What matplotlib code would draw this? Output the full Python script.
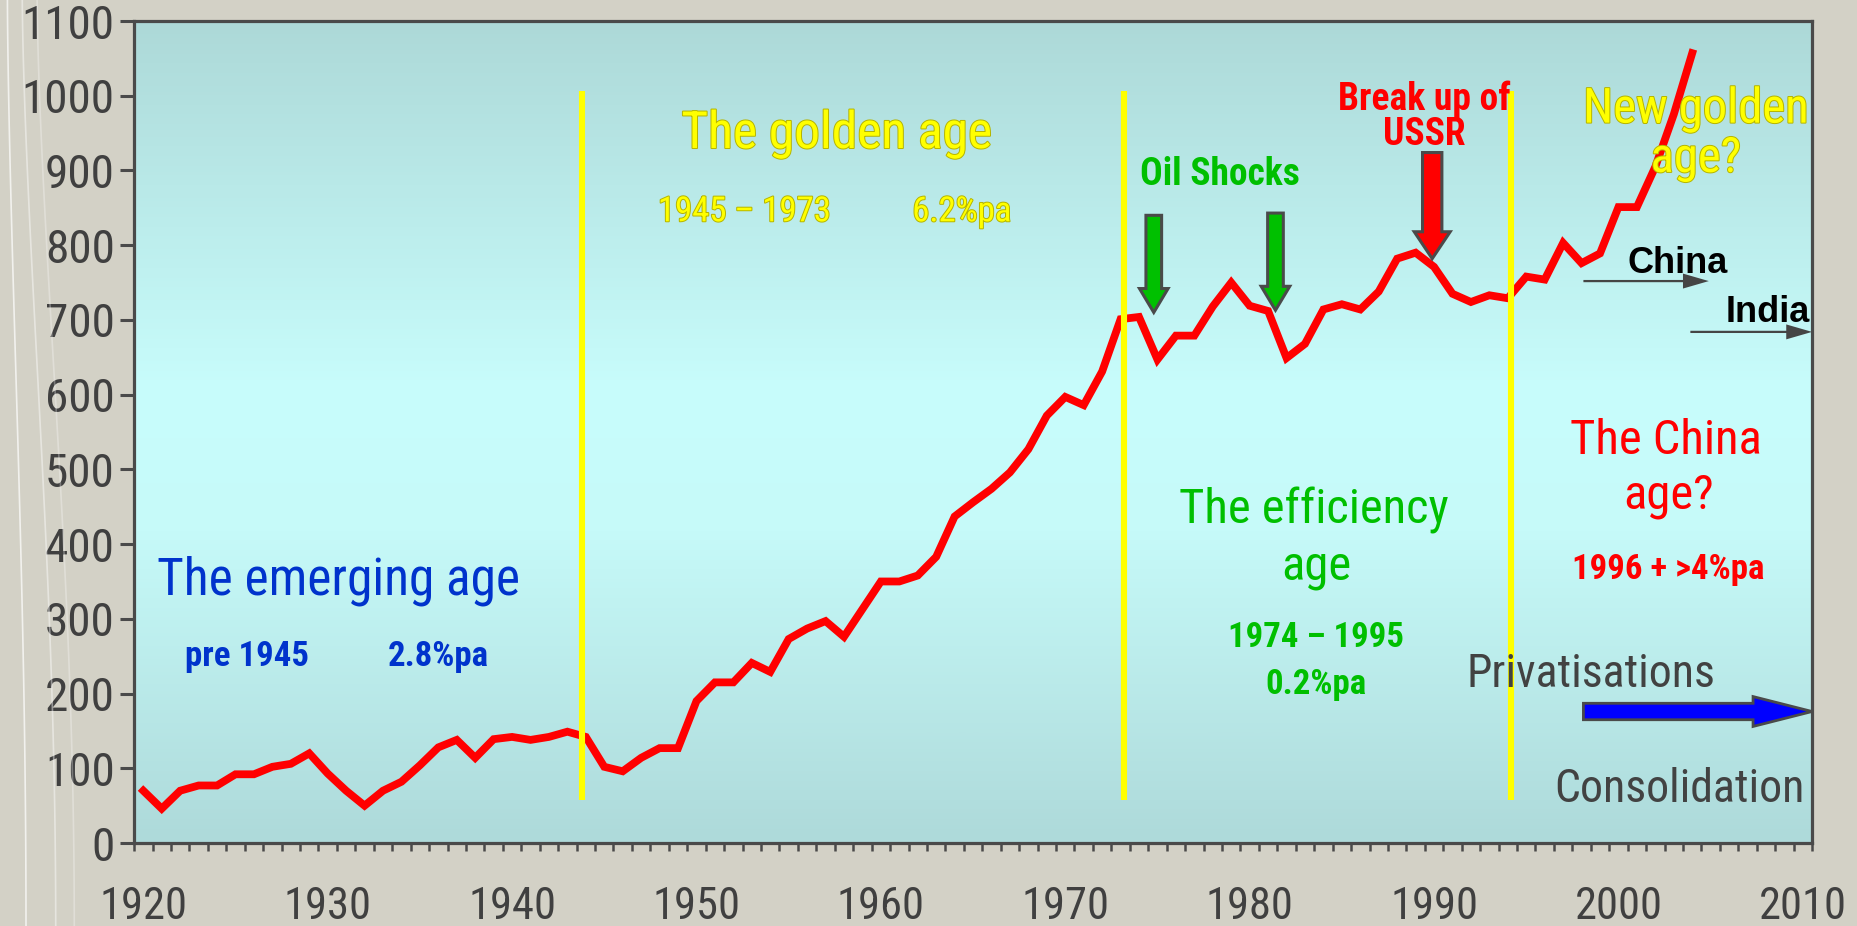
import numpy as np
import matplotlib
matplotlib.use('Agg')
import matplotlib.pyplot as plt
from matplotlib import font_manager as fm
from matplotlib.patches import FancyArrow
from matplotlib.colors import LinearSegmentedColormap
from matplotlib.ticker import FixedLocator, NullFormatter
import matplotlib.patheffects as pe

# ---------------- data ----------------
years = list(range(1920, 2005))
values = [70, 46, 70, 77, 77, 92, 92, 102, 106, 120,
          93, 70, 50, 70, 82, 104, 128, 138, 114, 139,
          142, 138, 142, 149, 142, 102, 96, 114, 127, 127,
          190, 215, 215, 241, 229, 273, 287, 297, 276, 313,
          350, 350, 358, 383, 437, 456, 474, 496, 527, 572,
          597, 586, 631, 701, 704, 647, 679, 679, 718, 750,
          719, 712, 649, 668, 714, 721, 714, 738, 782, 790,
          771, 735, 724, 733, 729, 758, 754, 803, 776, 789,
          851, 851, 905, 975, 1057]

era_boundaries = [1943.8, 1973.2, 1994.2]
era_line_range = (58, 1006)

x_tick_labels = [1920, 1930, 1940, 1950, 1960, 1970, 1980, 1990, 2000, 2010]
y_ticks = list(range(0, 1101, 100))

# event arrows: (x, top, tip)
oil_shock_arrows = [(1974.8, 840, 710), (1981.4, 843, 713)]
ussr_arrow = (1989.9, 924, 782)

# ---------------- fonts ----------------
avail = {f.name for f in fm.fontManager.ttflist}
NARROW = None
for cand in ['Liberation Sans Narrow', 'Arial Narrow', 'Roboto Condensed',
             'Open Sans Condensed', 'DejaVu Sans Condensed']:
    if cand in avail:
        NARROW = cand
        break
if NARROW is None:
    NARROW = 'DejaVu Sans'
    STRETCH = 'condensed'
    SC = 0.8
else:
    STRETCH = 'normal'
    SC = 1.0
WIDE = 'Liberation Sans' if 'Liberation Sans' in avail else 'DejaVu Sans'


def nfont(size, weight='normal'):
    return dict(family=NARROW, fontsize=size * SC, fontweight=weight, fontstretch=STRETCH)


FIG_BG = '#D3D1C6'
SPINE = '#4a4a4a'
TICKC = '#404040'
BLUE_T = '#0033CC'
GREEN_T = '#00BF00'
RED = '#FF0000'
YELLOW = '#FFFF00'
GRAY_T = '#424242'

fig = plt.figure(figsize=(18.57, 9.26), dpi=100, facecolor=FIG_BG)
ax = fig.add_axes([0.0722, 0.0896, 0.9758 - 0.0722, 0.9773 - 0.0896])
ax.set_facecolor('#C8FCFB')

# gradient background
cmap = LinearSegmentedColormap.from_list(
    'bg', [(0.0, '#ADD9D8'), (0.45, '#C8FDFC'), (0.62, '#C6FAF9'), (1.0, '#AEDADA')])
grad = np.linspace(0, 1, 256).reshape(-1, 1)
ax.imshow(grad, aspect='auto', cmap=cmap, extent=[0, 1, 0, 1],
          transform=ax.transAxes, zorder=0, interpolation='bicubic')

# faint decorative strokes at figure left edge
for x0, x1, a in [(0.004, 0.014, 0.7), (0.012, 0.030, 0.45), (0.020, 0.040, 0.3)]:
    t = np.linspace(0, 1, 100)
    fig.add_artist(plt.Line2D(x0 + (x1 - x0) * np.sin(t * np.pi / 2) ** 1.5, 1 - t,
                              transform=fig.transFigure, color='white', lw=1.2, alpha=a))

ax.set_xlim(1919.5, 2010.5)
ax.set_ylim(0, 1100)

# main line
ax.plot(years, values, color=RED, lw=5.6, solid_joinstyle='miter', zorder=3)

# era separators
for xb in era_boundaries:
    ax.plot([xb, xb], list(era_line_range), color=YELLOW, lw=4.4, zorder=6,
            solid_capstyle='butt')

# arrows
for (xa, top, tip) in oil_shock_arrows:
    ax.add_patch(FancyArrow(xa, top, 0, tip - top, width=0.85, head_width=1.55,
                            head_length=32, length_includes_head=True,
                            facecolor='#00C000', edgecolor='#4a4a4a', lw=2.2, zorder=5))
xa, top, tip = ussr_arrow
ax.add_patch(FancyArrow(xa, top, 0, tip - top, width=1.05, head_width=1.95,
                        head_length=36, length_includes_head=True,
                        facecolor=RED, edgecolor='#4a4a4a', lw=2.2, zorder=5))
# privatisations arrow
ax.add_patch(FancyArrow(1998.1, 176, 12.4, 0, width=22, head_width=40,
                        head_length=3.2, length_includes_head=True,
                        facecolor='#0000FF', edgecolor='#4a4a4a', lw=2.0,
                        zorder=5, clip_on=False))
# China / India arrows
ax.add_patch(FancyArrow(1998.1, 752, 6.8, 0, width=3, head_width=20,
                        head_length=1.4, length_includes_head=True,
                        facecolor='#454545', edgecolor='none', zorder=5, clip_on=False))
ax.add_patch(FancyArrow(2003.9, 684, 6.6, 0, width=3, head_width=20,
                        head_length=1.4, length_includes_head=True,
                        facecolor='#454545', edgecolor='none', zorder=5, clip_on=False))

# texts
yel_fx = [pe.withStroke(linewidth=1.4, foreground='#B4B400')]
T = dict(ha='center', va='baseline', zorder=7, clip_on=False)
ax.text(1930.6, 333, 'The emerging age', color=BLUE_T, **nfont(37), **T)
ax.text(1925.6, 237, 'pre 1945', color=BLUE_T, **nfont(25, 'bold'), **T)
ax.text(1936.0, 237, '2.8%pa', color=BLUE_T, **nfont(25, 'bold'), **T)

ax.text(1957.6, 930, 'The golden age', color=YELLOW, path_effects=yel_fx, **nfont(37), **T)
ax.text(1952.6, 832, '1945 – 1973', color=YELLOW, path_effects=yel_fx, **nfont(25), **T)
ax.text(1964.4, 832, '6.2%pa', color=YELLOW, path_effects=yel_fx, **nfont(25), **T)

ax.text(1978.4, 881, 'Oil Shocks', color=GREEN_T, **nfont(27, 'bold'), **T)
ax.text(1989.45, 981, 'Break up of', color=RED, **nfont(27, 'bold'), **T)
ax.text(1989.45, 934, 'USSR', color=RED, **nfont(27, 'bold'), **T)

ax.text(2004.2, 964, 'New golden', color=YELLOW, path_effects=yel_fx, **nfont(35), **T)
ax.text(2004.2, 898, 'age?', color=YELLOW, path_effects=yel_fx, **nfont(35), **T)

ax.text(2003.2, 763, 'China', color='black', family=WIDE, fontsize=26, fontweight='bold', **T)
ax.text(2008.1, 697, 'India', color='black', family=WIDE, fontsize=26, fontweight='bold', **T)

ax.text(2002.6, 521, 'The China', color=RED, **nfont(35), **T)
ax.text(2002.7, 447, 'age?', color=RED, **nfont(35), **T)
ax.text(2002.7, 353, '1996 + >4%pa', color=RED, **nfont(25, 'bold'), **T)

ax.text(1983.5, 428, 'The efficiency', color=GREEN_T, **nfont(35), **T)
ax.text(1983.6, 353, 'age', color=GREEN_T, **nfont(35), **T)
ax.text(1983.6, 262, '1974 – 1995', color=GREEN_T, **nfont(25, 'bold'), **T)
ax.text(1983.6, 199, '0.2%pa', color=GREEN_T, **nfont(25, 'bold'), **T)

ax.text(1998.5, 209, 'Privatisations', color=GRAY_T, **nfont(33), **T)
ax.text(2003.3, 55, 'Consolidation', color=GRAY_T, **nfont(33), **T)

# axes styling
for s in ax.spines.values():
    s.set_color(SPINE)
    s.set_linewidth(2.3)
    s.set_zorder(8)

ax.yaxis.set_major_locator(FixedLocator(y_ticks))
ax.set_yticklabels([str(v) for v in y_ticks])
ax.tick_params(axis='y', which='major', direction='out', length=10, width=2.2,
               color=SPINE, pad=4, labelcolor=TICKC, left=True, right=False)

ax.xaxis.set_major_locator(FixedLocator(x_tick_labels))
ax.set_xticklabels([str(v) for v in x_tick_labels])
ax.xaxis.set_minor_locator(FixedLocator(np.arange(1919.5, 2011.0, 1.0)))
ax.xaxis.set_minor_formatter(NullFormatter())
ax.tick_params(axis='x', which='major', length=0, pad=31, labelcolor=TICKC)
ax.tick_params(axis='x', which='minor', direction='out', length=6, width=1.8,
               color=SPINE, top=False)

for lbl in ax.get_yticklabels():
    lbl.set_fontfamily(NARROW)
    lbl.set_fontstretch(STRETCH)
    lbl.set_fontsize(34 * SC)
for lbl in ax.get_xticklabels():
    lbl.set_fontfamily(NARROW)
    lbl.set_fontstretch(STRETCH)
    lbl.set_fontsize(32 * SC)

fig.savefig('out.png', dpi=100, facecolor=FIG_BG)
